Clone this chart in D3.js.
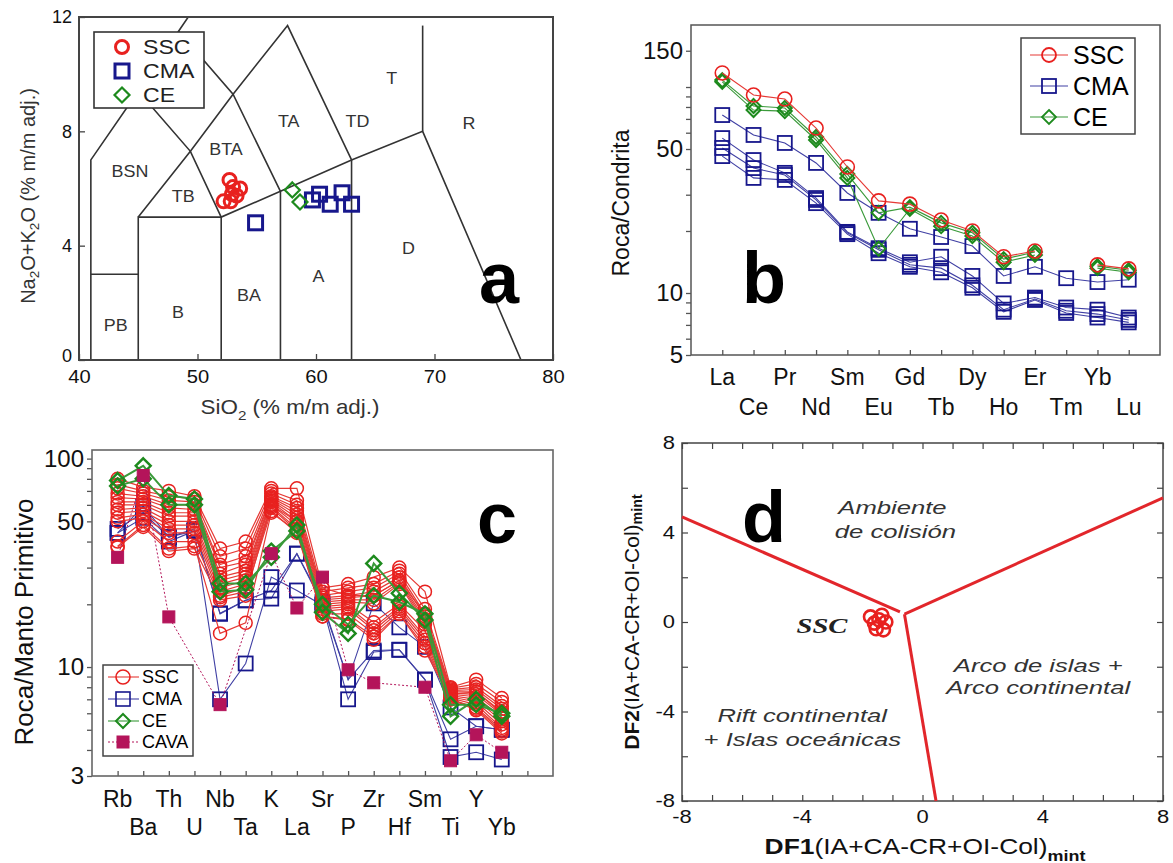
<!DOCTYPE html>
<html>
<head>
<meta charset="utf-8">
<script src="https://cdn.jsdelivr.net/npm/d3@7"></script>
<style>
  body { margin: 0; background: #fff; }
  svg { display: block; }
  text { font-family: "Liberation Sans", Arial, sans-serif; }
</style>
</head>
<body>
<svg id="fig" width="1173" height="863"></svg>
<script>
// ================= DATA =================

// (a) TAS diagram: SiO2 vs Na2O+K2O (% m/m)
const tasSSC = [[52.7,6.3],[53.0,6.05],[53.6,6.0],[52.9,5.8],[53.3,5.75],[52.2,5.55],[52.8,5.55]];
const tasCMA = [[54.9,4.8],[59.7,5.6],[60.3,5.8],[61.2,5.45],[62.2,5.85],[63.0,5.45]];
const tasCE  = [[58.0,5.95],[58.65,5.53]];
const tasBoundaries = [
  [[41,0],[41,7],[45,9.4],[48.4,11.5],[52.5,14]],
  [[45,9.4],[49.4,7.3],[52,5],[57,5.9],[63,7],[69,8],[77.3,0]],
  [[41,3],[45,3]],
  [[45,0],[45,5],[52,5]],
  [[45,5],[49.4,7.3],[53,9.3],[57.6,11.7],[63,7]],
  [[48.4,11.5],[53,9.3],[57,5.9]],
  [[52,0],[52,5]],
  [[57,0],[57,5.9]],
  [[63,0],[63,7]],
  [[69,8],[69,11.7]]
];
const tasFields = [
  {t:"BSN", x:44.3, y:6.6}, {t:"TB", x:48.8, y:5.7}, {t:"BTA", x:52.4, y:7.35},
  {t:"TA", x:57.7, y:8.35}, {t:"TD", x:63.5, y:8.35}, {t:"T", x:66.4, y:9.85},
  {t:"R", x:72.9, y:8.25}, {t:"PB", x:43.1, y:1.2}, {t:"B", x:48.35, y:1.65},
  {t:"BA", x:54.35, y:2.25}, {t:"A", x:60.2, y:2.9}, {t:"D", x:67.8, y:3.9}
];
const tasXTicks = [40,50,60,70,80];
const tasYTicks = [0,4,8,12];

// (b) REE normalised to chondrite
const reeLabels = ["La","Ce","Pr","Nd","Sm","Eu","Gd","Tb","Dy","Ho","Er","Tm","Yb","Lu"];
const reeSSC = [
  [117,91.4,87.4,63.2,40.9,28.0,27.0,22.6,20.0,15.0,16.0,null,13.7,13.1]
];
const reeCMA = [
  [73.1,58.5,53.5,42.8,30.6,24.5,20.5,18.7,16.9,12.1,13.4,11.8,11.3,11.6],
  [56.5,44.2,38.3,28.9,19.8,16.5,14.1,15.0,12.1,8.9,9.5,8.5,8.3,7.6],
  [50.6,40.4,37.4,28.3,19.6,16.2,13.7,13.2,10.9,8.3,9.35,8.2,7.9,7.4],
  [46.2,36.2,35.4,27.3,19.3,15.6,13.4,12.6,10.6,8.1,9.25,8.0,7.6,7.2]
];
const reeCE = [
  [108,80.9,79.1,57.2,37.8,24.5,26.1,21.9,19.6,14.6,15.8,null,13.5,12.9],
  [106,77.3,76.4,55.3,36.2,16.4,25.6,21.1,18.9,14.1,15.3,null,13.2,12.6]
];
const reeYTicks = [5,6,7,8,9,10,20,30,40,50,60,70,80,90,100,150];
const reeYLabels = [5,10,50,150];

// (c) Trace elements normalised to primitive mantle
const spiderLabels = ["Rb","Ba","Th","U","Nb","Ta","K","La","Sr","P","Zr","Hf","Sm","Ti","Y","Yb"];
const spiderSSC = [
  [80,73,70,66,37,40,72,72,24,25,27,30,23,8.0,8.7,7.1],
  [75,70,66,64,34,37,70,63,23,24,25,29,19,7.9,8.3,6.8],
  [72,68,63,62,31,34,68,60,22,23,24,28,18,7.8,8.0,6.5],
  [68,66,60,60,30,32,66,58,21.5,22,23,27,17.5,7.7,7.8,6.3],
  [65,64,58,57,28,31,65,56,21,21.5,22,26,17,7.6,7.6,6.1],
  [62,62,55,55,27,29,64,54,20.5,21,21,25.5,16.5,7.5,7.4,5.9],
  [60,60,53,53,26,28,63,52,20,20.5,20.2,25,16,7.4,7.2,5.7],
  [57,58,50,50,25,27,62,50,19.5,20,16.4,20,15,7.3,7.0,5.5],
  [55,56,48,48,24,26,60,48,19,19.5,15.5,19.5,14,7.2,6.8,5.3],
  [52,54,46,46,23,25,59,46,18.5,19,15,19,13.5,7.1,6.6,5.1],
  [50,52,44,44,22,24,58,45,18,18,14.5,18.5,13,7.0,6.4,5.0],
  [40,50,40,40,21.6,23,56,44,17.5,17,14,18,12.5,7.0,6.3,4.9],
  [38,48,37,38,14.5,16.3,55,45,17.5,16.8,13.5,18,12,7.0,6.2,4.8],
  [37.5,47,36,37,21,22,60,50,24,22,22,26,18,7.4,7.6,6.0]
];
const spiderCMA = [
  [44,59,42,45,18.1,20.9,23.3,35,20,8.7,20.2,15.5,12.5,6.4,5.2,5.0],
  [44,52,40,45,7.0,10.4,27,23.3,19.8,7.0,11.8,12.1,8.7,4.5,5.2,5.0],
  [46,55,42,46,18,20.9,21.3,35,20.5,8.7,12,12.1,8.7,3.7,3.9,3.6]
];
const spiderCE = [
  [78.5,92.4,66.5,64,25.2,25.2,33.6,48,18.3,14.5,31.4,22.6,16.8,5.8,7.0,5.8],
  [74,80,60,60,23,23.5,36,45,20,16,22,20.5,18,6.6,6.6,6.0]
];
const spiderCAVA = [33.6,83,17.4,null,6.6,null,35,19.2,27,9.7,8.4,null,8.0,3.55,4.73,3.9];
const spiderYTicks = [3,4,5,6,7,8,9,10,20,30,40,50,60,70,80,90,100];
const spiderYLabels = [3,10,50,100];

// (d) Discriminant-function diagram DF1-DF2
const dfSSC = [[-1.73,0.23],[-1.35,0.3],[-1.54,-0.3],[-1.22,0.0],[-1.6,-0.05],[-1.3,-0.35],[-1.45,0.1]];
const dfBoundaries = [
  [[-8,4.7],[-0.75,0.45]],
  [[-0.6,0.35],[8,5.55]],
  [[-0.6,0.35],[0.45,-8]]
];
const dfRegions = [
  {t:"Ambiente", x:-1.0, y:5.1}, {t:"de colisión", x:-0.9, y:4.05},
  {t:"Arco de islas +", x:3.85, y:-1.95}, {t:"Arco continental", x:3.85, y:-2.95},
  {t:"Rift continental", x:-4.0, y:-4.2}, {t:"+ Islas oceánicas", x:-4.0, y:-5.25}
];
const dfTicks = [-8,-4,0,4,8];

// ================= DRAWING =================
const svg = d3.select("#fig");
const defs = svg.append("defs");

const RED = "#e8211f", RED_L = "#e63a36";
const NAVY = "#17178c", NAVY_L = "#4040a4";
const GREEN = "#1d8a1d", GREEN_L = "#3a9a3a";
const CAVA = "#b4145a";

function marker(g, kind, x, y, o) {
  if (kind === "circle") {
    g.append("circle").attr("cx", x).attr("cy", y).attr("r", o.r)
      .attr("fill", "none").attr("stroke", o.c).attr("stroke-width", o.w);
  } else if (kind === "square") {
    g.append("rect").attr("x", x - o.r).attr("y", y - o.r)
      .attr("width", 2 * o.r).attr("height", 2 * o.r)
      .attr("fill", o.fill || "none").attr("stroke", o.c).attr("stroke-width", o.w);
  } else if (kind === "diamond") {
    g.append("path").attr("d", `M${x},${y - o.r}L${x + o.r},${y}L${x},${y + o.r}L${x - o.r},${y}Z`)
      .attr("fill", "none").attr("stroke", o.c).attr("stroke-width", o.w);
  }
}

// text placed in its own group so it can be widened horizontally
function label(g, x, y, str, o) {
  const gg = g.append("g").attr("transform", `translate(${x},${y}) scale(${o.k || 1},1)${o.rot ? " rotate(" + o.rot + ")" : ""}`);
  const t = gg.append("text")
    .attr("text-anchor", o.anchor || "middle")
    .attr("dominant-baseline", o.base || "auto")
    .attr("font-size", o.fs)
    .attr("fill", o.fill || "#111");
  if (o.weight) t.attr("font-weight", o.weight);
  if (o.style) t.attr("font-style", o.style);
  if (o.family) t.style("font-family", o.family);
  if (Array.isArray(str)) {
    let prevSub = false;
    str.forEach(p => {
      const ts = t.append("tspan").text(p.t);
      if (p.bold) ts.attr("font-weight", "bold");
      if (p.sub) { ts.attr("font-size", o.fs * 0.68).attr("dy", o.fs * 0.3); prevSub = true; }
      else if (prevSub) { ts.attr("dy", -o.fs * 0.3); prevSub = false; }
    });
  } else t.text(str);
  return t;
}

function styleAxis(g, fs, color) {
  g.select(".domain").remove();
  g.selectAll(".tick line").attr("stroke", color || "#444").attr("stroke-width", 1.3);
  g.selectAll(".tick text").attr("font-size", fs).attr("fill", "#111")
    .style("font-family", "'Liberation Sans', Arial, sans-serif");
}

// ---------- (a) TAS ----------
{
  const x = d3.scaleLinear().domain([40, 80]).range([79, 553]);
  const y = d3.scaleLinear().domain([0, 12]).range([360, 17]);
  const g = svg.append("g");
  defs.append("clipPath").attr("id", "clipA").append("rect")
    .attr("x", 79).attr("y", 17).attr("width", 474).attr("height", 343);

  const line = d3.line().x(d => x(d[0])).y(d => y(d[1]));
  g.append("g").attr("clip-path", "url(#clipA)")
    .selectAll("path").data(tasBoundaries).join("path")
    .attr("d", line).attr("fill", "none").attr("stroke", "#333").attr("stroke-width", 1.6);

  tasFields.forEach(f => label(g, x(f.x), y(f.y), f.t, {fs: 16, k: 1.12, base: "central", fill: "#333"}));

  const ax = g.append("g").attr("transform", "translate(0,360)")
    .call(d3.axisBottom(x).tickValues(tasXTicks).tickSize(-6).tickPadding(10).tickFormat(d3.format("d")));
  styleAxis(ax, 18);
  ax.selectAll(".tick text").attr("transform", "scale(1.12,1)");
  const ay = g.append("g").attr("transform", "translate(79,0)")
    .call(d3.axisLeft(y).tickValues(tasYTicks).tickSize(-6).tickPadding(7).tickFormat(d3.format("d")));
  styleAxis(ay, 18);
  ay.selectAll(".tick text").filter(d => d === 0).attr("dy", "0.1em");

  g.append("rect").attr("x", 79).attr("y", 17).attr("width", 474).attr("height", 343)
    .attr("fill", "none").attr("stroke", "#444").attr("stroke-width", 2);

  tasCMA.forEach(d => marker(g, "square", x(d[0]), y(d[1]), {r: 7, c: NAVY, w: 3}));
  tasCE.forEach(d => marker(g, "diamond", x(d[0]), y(d[1]), {r: 7.5, c: GREEN, w: 2.2}));
  tasSSC.forEach(d => marker(g, "circle", x(d[0]), y(d[1]), {r: 6.5, c: RED, w: 3}));

  // legend
  g.append("rect").attr("x", 94).attr("y", 32).attr("width", 110).attr("height", 76)
    .attr("fill", "#fff").attr("stroke", "#333").attr("stroke-width", 1.6);
  marker(g, "circle", 122, 47, {r: 6.5, c: RED, w: 3});
  marker(g, "square", 122, 71, {r: 7, c: NAVY, w: 3});
  marker(g, "diamond", 122, 95, {r: 7.5, c: GREEN, w: 2.2});
  [["SSC", 47], ["CMA", 71], ["CE", 95]].forEach(([t, yy]) =>
    label(g, 143, yy, t, {fs: 21, k: 1.1, anchor: "start", base: "central", fill: "#222"}));

  label(g, 290, 414, [{t: "SiO"}, {t: "2", sub: true}, {t: " (% m/m adj.)"}], {fs: 20, k: 1.12, fill: "#333"});
  label(g, 28, 196, [{t: "Na"}, {t: "2", sub: true}, {t: "O+K"}, {t: "2", sub: true}, {t: "O (% m/m adj.)"}],
    {fs: 20, rot: -90, base: "central", fill: "#333"});

  label(g, 499, 303, "a", {fs: 72, weight: "bold", fill: "#000"});
}

// ---------- (b) REE ----------
{
  const x = d3.scaleLinear().domain([0, 15]).range([691, 1160]);
  const y = d3.scaleLog().domain([5, 200]).range([355, 25]);
  const g = svg.append("g");

  const ay = g.append("g").attr("transform", "translate(691,0)")
    .call(d3.axisLeft(y).tickValues(reeYTicks).tickSize(5).tickPadding(3)
      .tickFormat(d => reeYLabels.includes(d) ? d : ""));
  styleAxis(ay, 24, "#555");
  const ax = g.append("g").attr("transform", "translate(0,355)")
    .call(d3.axisBottom(x).tickValues(d3.range(1, 15)).tickSize(-5).tickFormat(""));
  styleAxis(ax, 20, "#555");

  reeLabels.forEach((t, i) => label(g, x(i + 1), i % 2 === 0 ? 385 : 415, t, {fs: 23}));

  g.append("rect").attr("x", 691).attr("y", 25).attr("width", 469).attr("height", 330)
    .attr("fill", "none").attr("stroke", "#555").attr("stroke-width", 1.5);

  const line = d3.line().defined(d => d != null).x((d, i) => x(i + 1)).y(d => y(d));
  function series(data, lc, mc, kind, r, w) {
    data.forEach(s => {
      g.append("path").attr("d", line(s)).attr("fill", "none").attr("stroke", lc).attr("stroke-width", 1.1);
    });
    data.forEach(s => s.forEach((v, i) => { if (v != null) marker(g, kind, x(i + 1), y(v), {r, c: mc, w}); }));
  }
  series(reeCMA, NAVY_L, NAVY, "square", 7, 1.8);
  series(reeCE, GREEN_L, GREEN, "diamond", 7, 2);
  series(reeSSC, RED_L, RED, "circle", 7, 1.6);

  // legend
  g.append("rect").attr("x", 1021).attr("y", 38).attr("width", 114).attr("height", 96)
    .attr("fill", "#fff").attr("stroke", "#444").attr("stroke-width", 1.5);
  [["SSC", 55, RED_L, RED, "circle"], ["CMA", 86, NAVY_L, NAVY, "square"], ["CE", 117, GREEN_L, GREEN, "diamond"]]
    .forEach(([t, yy, lc, mc, kind]) => {
      g.append("line").attr("x1", 1030).attr("x2", 1068).attr("y1", yy).attr("y2", yy)
        .attr("stroke", lc).attr("stroke-width", 1.1);
      marker(g, kind, 1049, yy, {r: 7, c: mc, w: 1.8});
      label(g, 1073, yy, t, {fs: 25, anchor: "start", base: "central", fill: "#000"});
    });

  label(g, 621, 203, "Roca/Condrita", {fs: 23, rot: -90, base: "central", fill: "#111"});
  label(g, 764, 303, "b", {fs: 72, weight: "bold", fill: "#000"});
}

// ---------- (c) Spider diagram ----------
{
  const x = d3.scaleLinear().domain([0, 18]).range([92, 553]);
  const y = d3.scaleLog().domain([3, 110]).range([776, 450]);
  const g = svg.append("g");

  const ay = g.append("g").attr("transform", "translate(92,0)")
    .call(d3.axisLeft(y).tickValues(spiderYTicks).tickSize(5).tickPadding(3)
      .tickFormat(d => spiderYLabels.includes(d) ? d : ""));
  styleAxis(ay, 24, "#555");
  const ax = g.append("g").attr("transform", "translate(0,776)")
    .call(d3.axisBottom(x).tickValues(d3.range(1, 18)).tickSize(-5).tickFormat(""));
  styleAxis(ax, 20, "#555");

  spiderLabels.forEach((t, i) => label(g, x(i + 1), i % 2 === 0 ? 807 : 835, t, {fs: 23}));

  g.append("rect").attr("x", 92).attr("y", 450).attr("width", 461).attr("height", 326)
    .attr("fill", "none").attr("stroke", "#666").attr("stroke-width", 1.6);

  const line = d3.line().defined(d => d != null).x((d, i) => x(i + 1)).y(d => y(d));
  const lineSkip = d3.line().x(d => x(d[0] + 1)).y(d => y(d[1]));

  function series(data, lc, mc, kind, r, w, lw) {
    data.forEach(s => g.append("path").attr("d", line(s)).attr("fill", "none").attr("stroke", lc).attr("stroke-width", lw));
    data.forEach(s => s.forEach((v, i) => { if (v != null) marker(g, kind, x(i + 1), y(v), {r, c: mc, w}); }));
  }
  series(spiderCMA, NAVY_L, NAVY, "square", 7, 1.8, 1.1);
  series(spiderSSC, RED_L, RED, "circle", 6.5, 1.5, 1.2);
  series(spiderCE, GREEN_L, GREEN, "diamond", 7.5, 2.4, 2);

  // CAVA: dotted line through the available elements, filled squares
  const cava = spiderCAVA.map((v, i) => [i, v]).filter(d => d[1] != null);
  g.append("path").attr("d", lineSkip(cava)).attr("fill", "none").attr("stroke", CAVA)
    .attr("stroke-width", 1).attr("stroke-dasharray", "2,2");
  cava.forEach(d => marker(g, "square", x(d[0] + 1), y(d[1]), {r: 6, c: CAVA, w: 1, fill: CAVA}));

  // legend
  g.append("rect").attr("x", 103).attr("y", 665).attr("width", 90).attr("height", 91)
    .attr("fill", "#fff").attr("stroke", "#444").attr("stroke-width", 1.5);
  [["SSC", 677, RED_L, RED, "circle"], ["CMA", 699, NAVY_L, NAVY, "square"],
   ["CE", 721, GREEN_L, GREEN, "diamond"], ["CAVA", 742, CAVA, CAVA, "cava"]]
    .forEach(([t, yy, lc, mc, kind]) => {
      const ln = g.append("line").attr("x1", 108).attr("x2", 139).attr("y1", yy).attr("y2", yy)
        .attr("stroke", lc).attr("stroke-width", 1.1);
      if (kind === "cava") {
        ln.attr("stroke-dasharray", "2,2");
        marker(g, "square", 123, yy, {r: 6, c: CAVA, w: 1, fill: CAVA});
      } else marker(g, kind, 123, yy, {r: 7, c: mc, w: kind === "diamond" ? 2 : 1.6});
      label(g, 142, yy, t, {fs: 18, anchor: "start", base: "central", fill: "#000"});
    });

  label(g, 24, 622, "Roca/Manto Primitivo", {fs: 26, rot: -90, base: "central", fill: "#111"});
  label(g, 497, 543, "c", {fs: 72, weight: "bold", fill: "#000"});
}

// ---------- (d) DF1-DF2 ----------
{
  const x = d3.scaleLinear().domain([-8, 8]).range([682, 1163]);
  const y = d3.scaleLinear().domain([-8, 8]).range([801, 443]);
  const g = svg.append("g");
  const K = 1.22;

  const tk = (sel) => { sel.select(".domain").remove(); sel.selectAll(".tick line").attr("stroke", "#444").attr("stroke-width", 1.2); };
  g.append("g").attr("transform", "translate(0,801)")
    .call(d3.axisBottom(x).tickValues(d3.range(-8, 9)).tickSize(-6).tickFormat("")).call(tk);
  g.append("g").attr("transform", "translate(0,443)")
    .call(d3.axisTop(x).tickValues(d3.range(-8, 9)).tickSize(-6).tickFormat("")).call(tk);
  g.append("g").attr("transform", "translate(682,0)")
    .call(d3.axisLeft(y).tickValues(d3.range(-8, 9, 2)).tickSize(-6).tickFormat("")).call(tk);
  g.append("g").attr("transform", "translate(1163,0)")
    .call(d3.axisRight(y).tickValues(d3.range(-8, 9, 2)).tickSize(-6).tickFormat("")).call(tk);

  dfTicks.forEach(v => {
    label(g, x(v), 823, String(v), {fs: 18, k: K});
    label(g, 675, y(v), String(v), {fs: 18, k: K, anchor: "end", base: "central"});
  });

  g.append("rect").attr("x", 682).attr("y", 443).attr("width", 481).attr("height", 358)
    .attr("fill", "none").attr("stroke", "#444").attr("stroke-width", 1.5);

  const line = d3.line().x(d => x(d[0])).y(d => y(d[1]));
  g.selectAll(".bnd").data(dfBoundaries).join("path").attr("class", "bnd")
    .attr("d", line).attr("fill", "none").attr("stroke", "#e2262b").attr("stroke-width", 3);

  dfRegions.forEach(r => label(g, x(r.x), y(r.y), r.t, {fs: 19, k: 1.35, style: "italic", base: "central", fill: "#333"}));

  dfSSC.forEach(d => marker(g, "circle", x(d[0]), y(d[1]), {r: 6.5, c: RED, w: 2.6}));
  label(g, x(-2.5), y(-0.15), "SSC", {fs: 22, k: 1.3, weight: "bold", style: "italic", anchor: "end", base: "central",
    family: "'Liberation Serif', 'Times New Roman', serif", fill: "#222"});

  label(g, 925, 854, [{t: "DF1", bold: true}, {t: "(IA+CA-CR+OI-Col)"}, {t: "mint", bold: true, sub: true}],
    {fs: 22, k: 1.2, fill: "#111"});
  label(g, 631, 622, [{t: "DF2", bold: true}, {t: "(IA+CA-CR+OI-Col)"}, {t: "mint", bold: true, sub: true}],
    {fs: 21, rot: -90, base: "central", fill: "#111"});

  label(g, 764, 542, "d", {fs: 72, weight: "bold", fill: "#000"});
}
</script>
</body>
</html>
